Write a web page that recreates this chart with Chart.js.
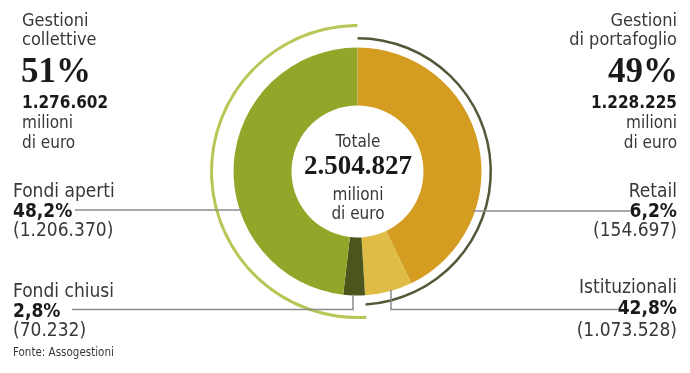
<!DOCTYPE html>
<html>
<head>
<meta charset="utf-8">
<script src="https://cdn.jsdelivr.net/npm/chart.js@4.4.1/dist/chart.umd.min.js"></script>
<style>
  html, body { margin: 0; padding: 0; background: #fff; }
  #wrap { position: relative; width: 690px; height: 373px; overflow: hidden; }
  #chart { position: absolute; left: 0; top: 0; }
  .t { position: absolute; white-space: nowrap; line-height: 1; color: #383838;
       font-family: "Liberation Sans Narrow", "DejaVu Sans Condensed", sans-serif; }
  .b { font-weight: bold; color: #1a1a1a; }
  .serif { font-family: "Liberation Serif", "DejaVu Serif", serif; font-weight: bold; color: #1a1a1a; }
</style>
</head>
<body>
<div id="wrap">
  <canvas id="chart" width="690" height="373"></canvas>
</div>
<script>
// ring segments, clockwise from 12 o'clock
const segLabels = ['Istituzionali', 'Retail', 'Fondi chiusi', 'Fondi aperti'];
const segValues = [1073528, 154697, 70232, 1206370];
const segPct = ['42,8%', '6,2%', '2,8%', '48,2%'];
const segColors = ['#d49c20', '#dfbc46', '#4b561d', '#93a62a'];

// outer groups
const groupLabels = ['Gestioni di portafoglio', 'Gestioni collettive'];
const groupValues = [1228225, 1276602];
const groupPct = ['49%', '51%'];
const totale = '2.504.827';

const clear = 'rgba(0,0,0,0)';

function fmt(n) {
    return String(n).replace(/\B(?=(\d{3})+(?!\d))/g, '.');
}

// leader lines from the labels to the ring
const leaderPlugin = {
    id: 'leaders',
    afterDatasetsDraw(chart) {
        const arc = chart.getDatasetMeta(4).data[0];
        const cx = arc.x, cy = arc.y, R = arc.outerRadius;
        const edge = y => Math.sqrt(Math.max(R * R - (y - cy) * (y - cy), 0));
        const ctx = chart.ctx;
        ctx.save();
        ctx.strokeStyle = '#8c8c8c';
        ctx.lineWidth = 1.5;
        ctx.beginPath();
        // Fondi aperti
        ctx.moveTo(75, 210); ctx.lineTo(cx - edge(210) + 2, 210);
        // Retail
        ctx.moveTo(cx + edge(211) - 2, 211); ctx.lineTo(630, 211);
        // Fondi chiusi
        ctx.moveTo(72, 309.5); ctx.lineTo(353, 309.5); ctx.lineTo(353, cy + R - 1);
        // Istituzionali
        ctx.moveTo(618, 309.5); ctx.lineTo(391, 309.5); ctx.lineTo(391, cy + edge(391 - cx + cy) - 1);
        ctx.stroke();
        ctx.restore();
    }
};

new Chart(document.getElementById('chart'), {
    type: 'doughnut',
    data: {
        labels: segLabels,
        datasets: [
            { data: groupValues, backgroundColor: [clear, '#b9c655'], weight: 3 },
            { data: [1], backgroundColor: clear, weight: 10 },
            { data: groupValues, backgroundColor: ['#4f5a36', clear], weight: 2.5 },
            { data: [1], backgroundColor: clear, weight: 8 },
            { data: segValues, backgroundColor: segColors, weight: 58 }
        ]
    },
    options: {
        responsive: false,
        animation: false,
        cutout: 66,
        borderWidth: 0,
        hoverOffset: 0,
        layout: { padding: { left: 210, top: 24, right: 185, bottom: 54 } },
        plugins: { legend: { display: false }, tooltip: { enabled: false } }
    },
    plugins: [leaderPlugin]
});

// text labels, placed by baseline
const wrap = document.getElementById('wrap');
function put(text, x, base, size, cls, align) {
    const d = document.createElement('div');
    d.className = 't ' + (cls || '');
    d.textContent = text;
    d.style.fontSize = size + 'px';
    d.style.top = (base - size * (cls === 'serif' ? 0.84 : 0.85)) + 'px';
    if (align === 'right') d.style.right = (690 - x) + 'px';
    else if (align === 'center') { d.style.left = (x - 100) + 'px'; d.style.width = '200px'; d.style.textAlign = 'center'; }
    else d.style.left = x + 'px';
    wrap.appendChild(d);
}

// left group
put('Gestioni', 22, 26, 18);
put('collettive', 22, 45, 18);
put(groupPct[1], 21, 82, 35, 'serif');
put(fmt(groupValues[1]), 22, 108, 17, 'b');
put('milioni', 22, 128, 17);
put('di euro', 22, 148, 17);

// right group
put('Gestioni', 677, 26, 18, '', 'right');
put('di portafoglio', 677, 45, 18, '', 'right');
put(groupPct[0], 678, 82, 35, 'serif', 'right');
put(fmt(groupValues[0]), 677, 108, 17, 'b', 'right');
put('milioni', 677, 128, 17, '', 'right');
put('di euro', 677, 148, 17, '', 'right');

// left segments
put(segLabels[3], 13, 197, 19);
put(segPct[3], 13, 217, 19, 'b');
put('(' + fmt(segValues[3]) + ')', 13, 236, 19);
put(segLabels[2], 13, 297, 19);
put(segPct[2], 13, 317, 19, 'b');
put('(' + fmt(segValues[2]) + ')', 13, 336, 19);
put('Fonte: Assogestioni', 13, 357, 11.5);

// right segments
put(segLabels[1], 677, 197, 19, '', 'right');
put(segPct[1], 677, 217, 19, 'b', 'right');
put('(' + fmt(segValues[1]) + ')', 677, 236, 19, '', 'right');
put(segLabels[0], 677, 293, 19, '', 'right');
put(segPct[0], 677, 314, 19, 'b', 'right');
put('(' + fmt(segValues[0]) + ')', 677, 336, 19, '', 'right');

// centre
put('Totale', 358, 147, 17, '', 'center');
put(totale, 358, 175, 27, 'serif', 'center');
put('milioni', 358, 200, 17, '', 'center');
put('di euro', 358, 219, 17, '', 'center');
</script>
</body>
</html>
